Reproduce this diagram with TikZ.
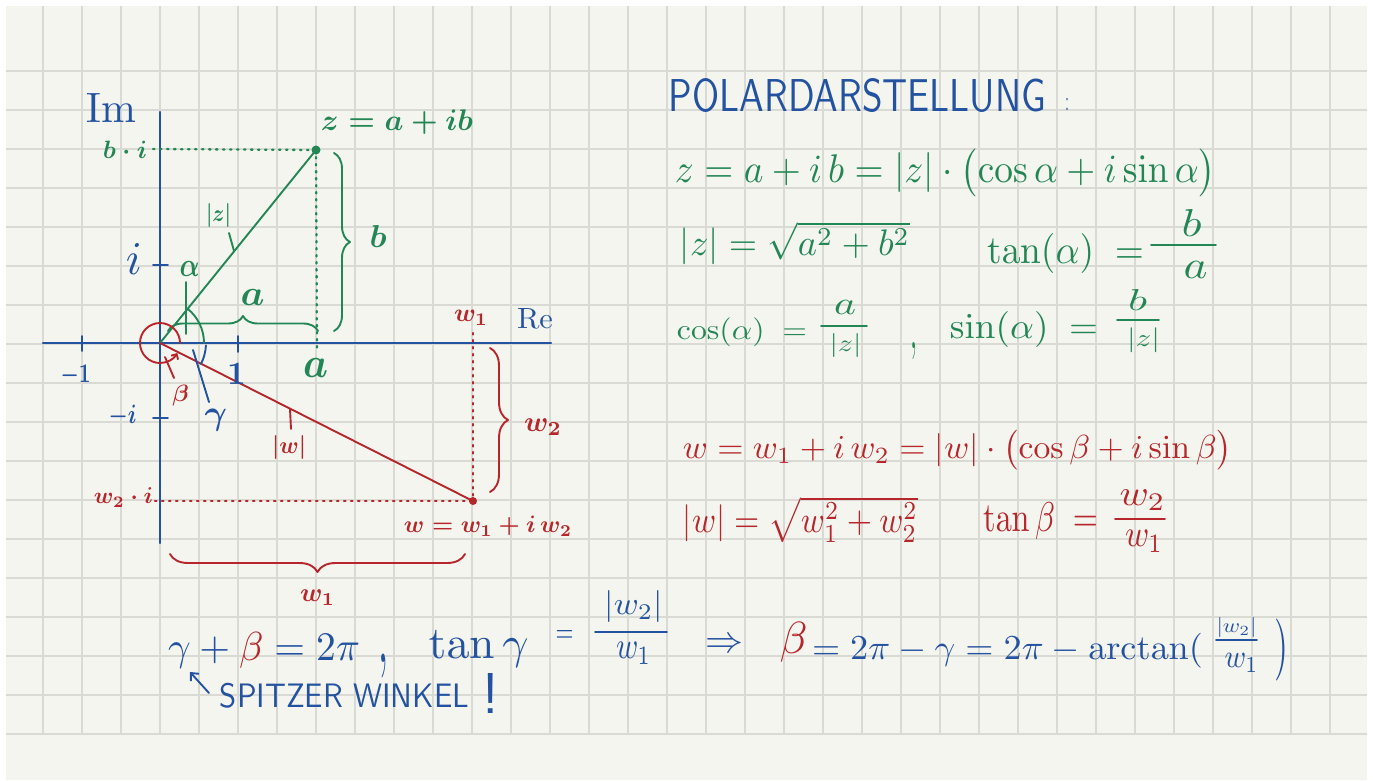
\documentclass[tikz,border=0pt]{standalone}
\usepackage{amsmath}
\usepackage{graphicx}
\usetikzlibrary{decorations.pathreplacing,arrows.meta,calc}
\definecolor{pgblue}{RGB}{35,82,160}
\definecolor{pggreen}{RGB}{35,135,85}
\definecolor{pgred}{RGB}{182,38,42}
\definecolor{pggrid}{RGB}{218,218,212}
\definecolor{pgpaper}{RGB}{245,245,240}
\newcommand{\fb}[3]{\resizebox*{#1pt}{#2pt}{#3}}
\newcommand{\fh}[2]{\resizebox*{!}{#1pt}{#2}}
\newcommand{\fw}[2]{\resizebox{#1pt}{!}{#2}}
\newcommand{\hb}[1]{{\boldmath#1}}
\begin{document}
\begin{tikzpicture}[x=1pt,y=-1pt,
  lbl/.style={inner sep=0pt,outer sep=0pt,anchor=center},
  gridline/.style={draw=pggrid,line width=1.4pt},
  axis/.style={draw=pgblue,line width=2.2pt,line cap=round},
  pen/.style={line width=1.9pt,line cap=round,line join=round},
  fracbar/.style={line width=1.7pt,line cap=round},
  dots/.style={line width=2.3pt,line cap=round,dash pattern=on 1.5pt off 5.5pt},
  bracedec/.style={decorate,decoration={brace,amplitude=#1}},
  barb/.style={-{Straight Barb[length=6pt,width=11pt]}}
]
\useasboundingbox (0,0) rectangle (1373,780);
\fill[white] (0,0) rectangle (1373,780);
\fill[pgpaper] (6,6) rectangle (1367,780);
\foreach \x in {43,82,...,1330} \draw[gridline] (\x,6) -- (\x,734);
\foreach \y in {71,110,...,734} \draw[gridline] (6,\y) -- (1367,\y);

% key points
\coordinate (O) at (160,343);
\coordinate (Z) at (316,150);
\coordinate (W) at (473,501);
\coordinate (xl) at (43,343);
\coordinate (xr) at (551,343);
\coordinate (yt) at (160,112);
\coordinate (yb) at (160,543);
\coordinate (Bi) at (153,149);
\coordinate (Ax) at (317,352);
\coordinate (W2i) at (155,501);
\coordinate (W1t) at (473,333);

% axes and ticks
\draw[axis] (xl) -- (xr);
\draw[axis] (yt) -- (yb);
\draw[axis,line width=1.8pt] (82,336) -- (82,351);
\draw[axis,line width=1.8pt] (238,336) -- (238,352);
\draw[axis,line width=1.8pt] (153,265) -- (168,265);
\draw[axis,line width=1.8pt] (153,418) -- (168,418);

% z
\draw[dots,pggreen] (Bi) -- (Z);
\draw[dots,pggreen] (Z) -- (Ax);
\draw[pen,pggreen] (O) -- (Z);
\fill[pggreen] (Z) circle[radius=4.5];
\draw[pen,pggreen,bracedec=16pt] (334,153) -- (334,331);
\draw[pen,pggreen,bracedec=15pt] (168,331) -- (318,331);
\draw[pen,pggreen] ($(O)+(44,0)$) arc[start angle=0,end angle=-51,radius=44];
\draw[pen,pggreen] (186,282) -- (186,334);
\draw[pen,pggreen] (229,233) -- (234,251);

% w
\draw[dots,pgred] (W2i) -- (W);
\draw[dots,pgred] (W1t) -- (W);
\draw[pen,pgred] (O) -- (W);
\fill[pgred] (W) circle[radius=4];
\draw[pen,pgred,bracedec=18pt] (490,348) -- (490,492);
\draw[pen,pgred,bracedec=18pt] (465,554) -- (170,554);
\draw[pen,pgred,-{Straight Barb[length=4pt,width=8pt]}] ($(O)+(20,0)$) arc[start angle=0,end angle=-330,radius=20];
\draw[pen,pgred] (174,378) -- (165,357);
\draw[pen,pgred] (290,409) -- (291,429);
\draw[pen,pgblue] ($(O)+(3:46)$) arc[start angle=3,end angle=27,radius=46];
\draw[pen,pgblue] (209,402) -- (193,350);

% labels left
\node[lbl,text=pgblue] (im) at (111,107.5) {\fb{50}{29}{$\mathrm{Im}$}};
\node[lbl,text=pggreen] (bi) at (125,150) {\fw{44}{\hb{$b\cdot i$}}};
\node[lbl,text=pggreen] (zlab) at (397,122.5) {\fw{152}{\hb{$z=a+ib$}}};
\node[lbl,text=pggreen] (zabs) at (218.5,215) {\fb{25}{24}{\hb{$|z|$}}};
\node[lbl,text=pggreen] (blab) at (378,236) {\fb{17}{22}{\hb{$b$}}};
\node[lbl,text=pgblue] (ilab) at (134,259) {\fb{16}{31}{$i$}};
\node[lbl,text=pggreen] (alpha) at (189.5,268.5) {\fb{20}{15}{\hb{$\alpha$}}};
\node[lbl,text=pggreen] (alab) at (252.5,297.5) {\fb{24}{16}{\hb{$a$}}};
\node[lbl,text=pgblue] (re) at (535,318) {\fb{36}{20}{$\mathrm{Re}$}};
\node[lbl,text=pgred] (wone) at (471,317.5) {\fw{34}{\hb{$w_1$}}};
\node[lbl,text=pgblue] (mone) at (75.5,375.5) {\fb{30}{21}{\hb{$-1$}}};
\node[lbl,text=pgblue] (one) at (236.5,374) {\fh{21}{\hb{$1$}}};
\node[lbl,text=pggreen] (aax) at (315.5,368) {\fb{25}{19}{\hb{$a$}}};
\node[lbl,text=pgred] (beta) at (180.5,396) {\fh{21}{\hb{$\beta$}}};
\node[lbl,text=pgblue] (gamma) at (216,420) {\fh{22}{\hb{$\gamma$}}};
\node[lbl,text=pgblue] (mi) at (122.5,416) {\fb{28}{22}{\hb{$-i$}}};
\node[lbl,text=pgred] (wabs) at (289,447.5) {\fb{34}{24}{\hb{$|w|$}}};
\node[lbl,text=pgred] (wtwoi) at (123.5,497.5) {\fw{59}{\hb{$w_2\cdot i$}}};
\node[lbl,text=pgred] (wtwo) at (543,427.5) {\fw{38}{\hb{$w_2$}}};
\node[lbl,text=pgred] (wlab) at (488,526.5) {\fw{168}{\hb{$w=w_1+i\,w_2$}}};
\node[lbl,text=pgred] (wonebot) at (317.5,597.5) {\fw{35}{\hb{$w_1$}}};

% bottom formula
\node[lbl,text=pgblue] (f1) at (264,650) {\fb{192}{36}{$\gamma+\textcolor{pgred}{\beta}=2\pi$}};
\node[lbl,text=pgblue] (comma1) at (383,666) {\fb{10}{24}{$,$}};
\node[lbl,text=pgblue] (tang) at (478.5,648.5) {\fw{100}{$\tan\gamma$}};
\node[lbl,text=pgblue] (eq1) at (564.5,636) {\fb{18}{12}{$=$}};
\node[lbl,text=pgblue] (n1) at (633.5,606.5) {\fb{58}{32}{$|w_2|$}};
\node[lbl,text=pgblue] (d1) at (633.5,653.5) {\fb{35}{22}{$w_1$}};
\draw[fracbar,pgblue] (595,632) -- (667,632);
\node[lbl,text=pgblue] (impl) at (724,646) {\fw{38}{$\Rightarrow$}};
\node[lbl,text=pgred] (beta2) at (793.5,642) {\fb{28}{40}{$\beta$}};
\node[lbl,text=pgblue] (f2) at (1007.5,650.5) {\fb{391}{35}{$=2\pi-\gamma=2\pi-\arctan($}};
\node[lbl,text=pgblue] (n2) at (1236.5,627.5) {\fb{40}{20}{$|w_2|$}};
\node[lbl,text=pgblue] (d2) at (1241.5,662.5) {\fb{34}{19}{$w_1$}};
\draw[fracbar,pgblue] (1216,640) -- (1257,640);
\node[lbl,text=pgblue] (rpar) at (1281,649.5) {\fb{14}{62}{$)$}};
\node[lbl,text=pgblue] (spitz) at (344.5,695.5) {\fb{249}{25}{\textsf{SPITZER WINKEL}}};
\node[lbl,text=pgblue] (excl) at (490.5,693) {\fh{40}{\textsf{!}}};
\coordinate (sa) at (209,693);
\coordinate (gtip) at (190,672);
\draw[pen,pgblue,barb] (sa) -- (gtip);

% right side
\node[lbl,text=pgblue] (title) at (857.5,95.5) {\fb{377}{34}{\textsf{POLARDARSTELLUNG}}};
\node[lbl,text=pgblue] (colon) at (1067,104) {\fb{4}{12}{\textsf{:}}};
\node[lbl,text=pggreen] (eqz) at (945.5,172.5) {\fb{541}{48}{$z=a+i\,b=|z|\cdot\bigl(\cos\alpha+i\sin\alpha\bigr)$}};
\node[lbl,text=pggreen] (absz) at (795,243.5) {\fb{230}{43}{$|z|=\sqrt{a^2+b^2}$}};
\node[lbl,text=pggreen] (tana) at (1065.5,253) {\fb{157}{40}{$\tan(\alpha)\;=$}};
\node[lbl,text=pggreen] (tanan) at (1191.5,223) {\fb{20}{27}{$b$}};
\node[lbl,text=pggreen] (tanad) at (1195.5,270) {\fb{24}{17}{$a$}};
\draw[fracbar,pggreen] (1151,245) -- (1216,245);
\node[lbl,text=pggreen] (cosa) at (742,332.5) {\fb{130}{29}{$\cos(\alpha)\;=$}};
\node[lbl,text=pggreen] (cosan) at (845,307.5) {\fb{22}{14}{$a$}};
\node[lbl,text=pggreen] (cosad) at (845.5,345) {\fb{32}{24}{$|z|$}};
\draw[fracbar,pggreen] (821,326) -- (867,326);
\node[lbl,text=pggreen] (comma2) at (914,351) {\fb{7}{17}{$,$}};
\node[lbl,text=pggreen] (sina) at (1024,329) {\fb{148}{36}{$\sin(\alpha)\;=$}};
\node[lbl,text=pggreen] (sinan) at (1137.5,300) {\fb{19}{21}{$b$}};
\node[lbl,text=pggreen] (sinad) at (1143.5,340.5) {\fb{33}{25}{$|z|$}};
\draw[fracbar,pggreen] (1117,320) -- (1159,320);
\node[lbl,text=pgred] (eqw) at (957.5,450) {\fb{549}{40}{$w=w_1+i\,w_2=|w|\cdot\bigl(\cos\beta+i\sin\beta\bigr)$}};
\node[lbl,text=pgred] (absw) at (800.5,520) {\fb{235}{46}{$|w|=\sqrt{w_1^2+w_2^2}$}};
\node[lbl,text=pgred] (tanb) at (1040.5,521.5) {\fb{115}{37}{$\tan\beta\;=$}};
\node[lbl,text=pgred] (tanbn) at (1142.5,500) {\fb{46}{21}{$w_2$}};
\node[lbl,text=pgred] (tanbd) at (1144,541.5) {\fb{38}{22}{$w_1$}};
\draw[fracbar,pgred] (1115,519) -- (1165,519);
\end{tikzpicture}
\end{document}
